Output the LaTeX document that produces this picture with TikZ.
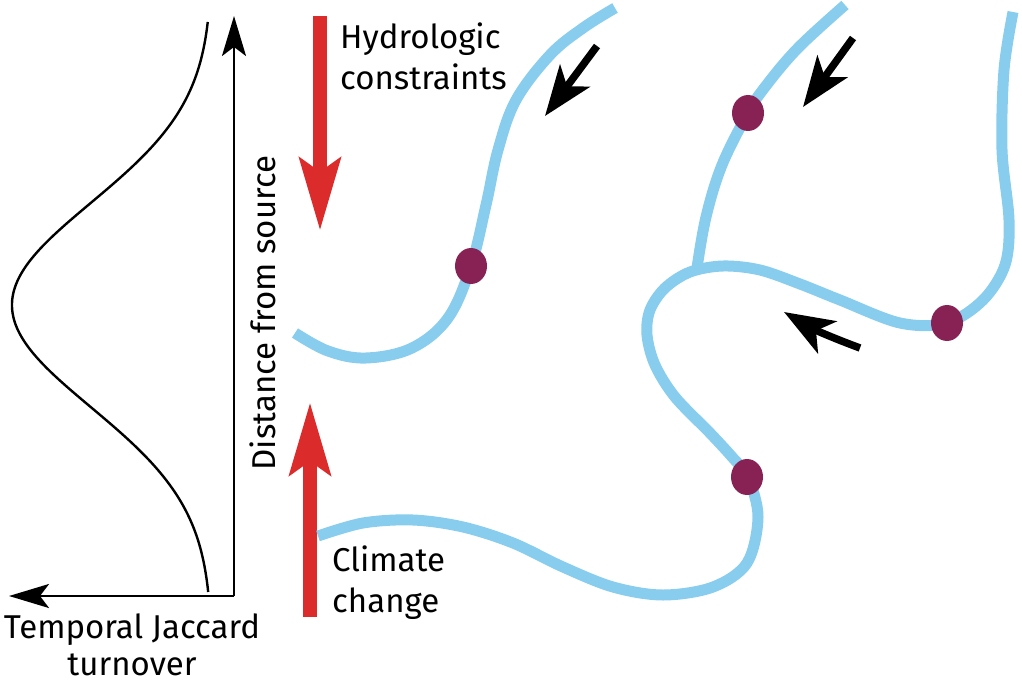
\documentclass[tikz,border=0pt]{standalone}
\usepackage{fontspec}
\setmainfont{Fira Sans}
\usetikzlibrary{arrows.meta,shapes.geometric}
\definecolor{river}{HTML}{88CCEE}
\definecolor{site}{HTML}{882255}
\definecolor{arrred}{HTML}{DC2B2B}
\begin{document}
\begin{tikzpicture}[x=1pt,y=-1pt,
  riverline/.style={draw=river, line width=11pt},
  sitedot/.style={ellipse, fill=site, draw=none, minimum width=32pt, minimum height=36pt, inner sep=0pt},
  flowarrow/.style={draw=black, line width=7.5pt, -{Stealth[length=50pt, width=37pt, inset=13pt]}},
  driver/.style={draw=arrred, line width=14.5pt, -{Stealth[length=72pt, width=40pt, inset=13pt]}},
  axis/.style={draw=black, line width=2.4pt, -{Stealth[length=40pt, width=24pt, inset=9pt]}},
  lbl/.style={font=\fontsize{33}{41}\selectfont, inner sep=0pt}]
\useasboundingbox (0,0) rectangle (1022,682);

% axes
\coordinate (origin) at (234,596);
\coordinate (ytip) at (234,16);
\coordinate (xtip) at (9,596);
\draw[axis] (origin) -- (ytip);
\draw[axis] (origin) -- (xtip);
\draw[line width=2.4pt] plot[domain=22:592, samples=120, smooth] ({212-200*exp(-((\x-305)/102)^2/2)}, \x);

\node[lbl, rotate=90, anchor=base] (dist) at (275,313) {Distance from source};
\node[lbl, font=\fontsize{33}{37}\selectfont, align=center, anchor=base] (jac) at (132,675) {Temporal Jaccard\\turnover};

% red drivers
\coordinate (h0) at (320,16);
\coordinate (h1) at (320,231);
\draw[driver] (h0) -- (h1);
\coordinate (c0) at (310,617);
\coordinate (c1) at (310,402);
\draw[driver] (c0) -- (c1);
\node[lbl, align=left, anchor=base west] (hyd) at (340,90) {Hydrologic\\constraints};
\node[lbl, align=left, anchor=base west] (clim) at (332,612) {Climate\\change};

% rivers
\draw[riverline] plot[smooth, tension=0.6] coordinates {(295,333) (328,351) (366,358) (412,348) (448,318) (471,266) (486,205) (498,150) (516,100) (550,55) (583,28) (615,8)};
\draw[riverline] plot[smooth, tension=0.6] coordinates {(845,5) (798,48) (765,87) (748,113) (722,165) (706,217) (697,268)};
\draw[riverline] plot[smooth, tension=0.55] coordinates {(1013,12) (1004,70) (1002,150) (1009,220) (1005,265) (983,300) (947,323) (900,323) (840,300) (800,284) (760,270) (723,266) (690,272) (665,288) (650,310) (647,335) (655,365) (675,397) (710,433) (733,458) (748,477) (758,517) (747,563) (713,587) (663,595) (613,587) (563,567) (513,543) (463,527) (413,520) (363,523) (318,536)};

% sites
\node[sitedot] (s1) at (471,266) {};
\node[sitedot] (s2) at (748,113) {};
\node[sitedot] (s3) at (947,323) {};
\node[sitedot] (s4) at (747,477) {};

% flow arrows
\coordinate (f1a) at (597,46);
\coordinate (f1b) at (545,116);
\draw[flowarrow] (f1a) -- (f1b);
\coordinate (f2a) at (853,38);
\coordinate (f2b) at (803,107);
\draw[flowarrow] (f2a) -- (f2b);
\coordinate (f3a) at (860,348);
\coordinate (f3b) at (784,312);
\draw[flowarrow] (f3a) to[bend left=5] (f3b);
\end{tikzpicture}
\end{document}
